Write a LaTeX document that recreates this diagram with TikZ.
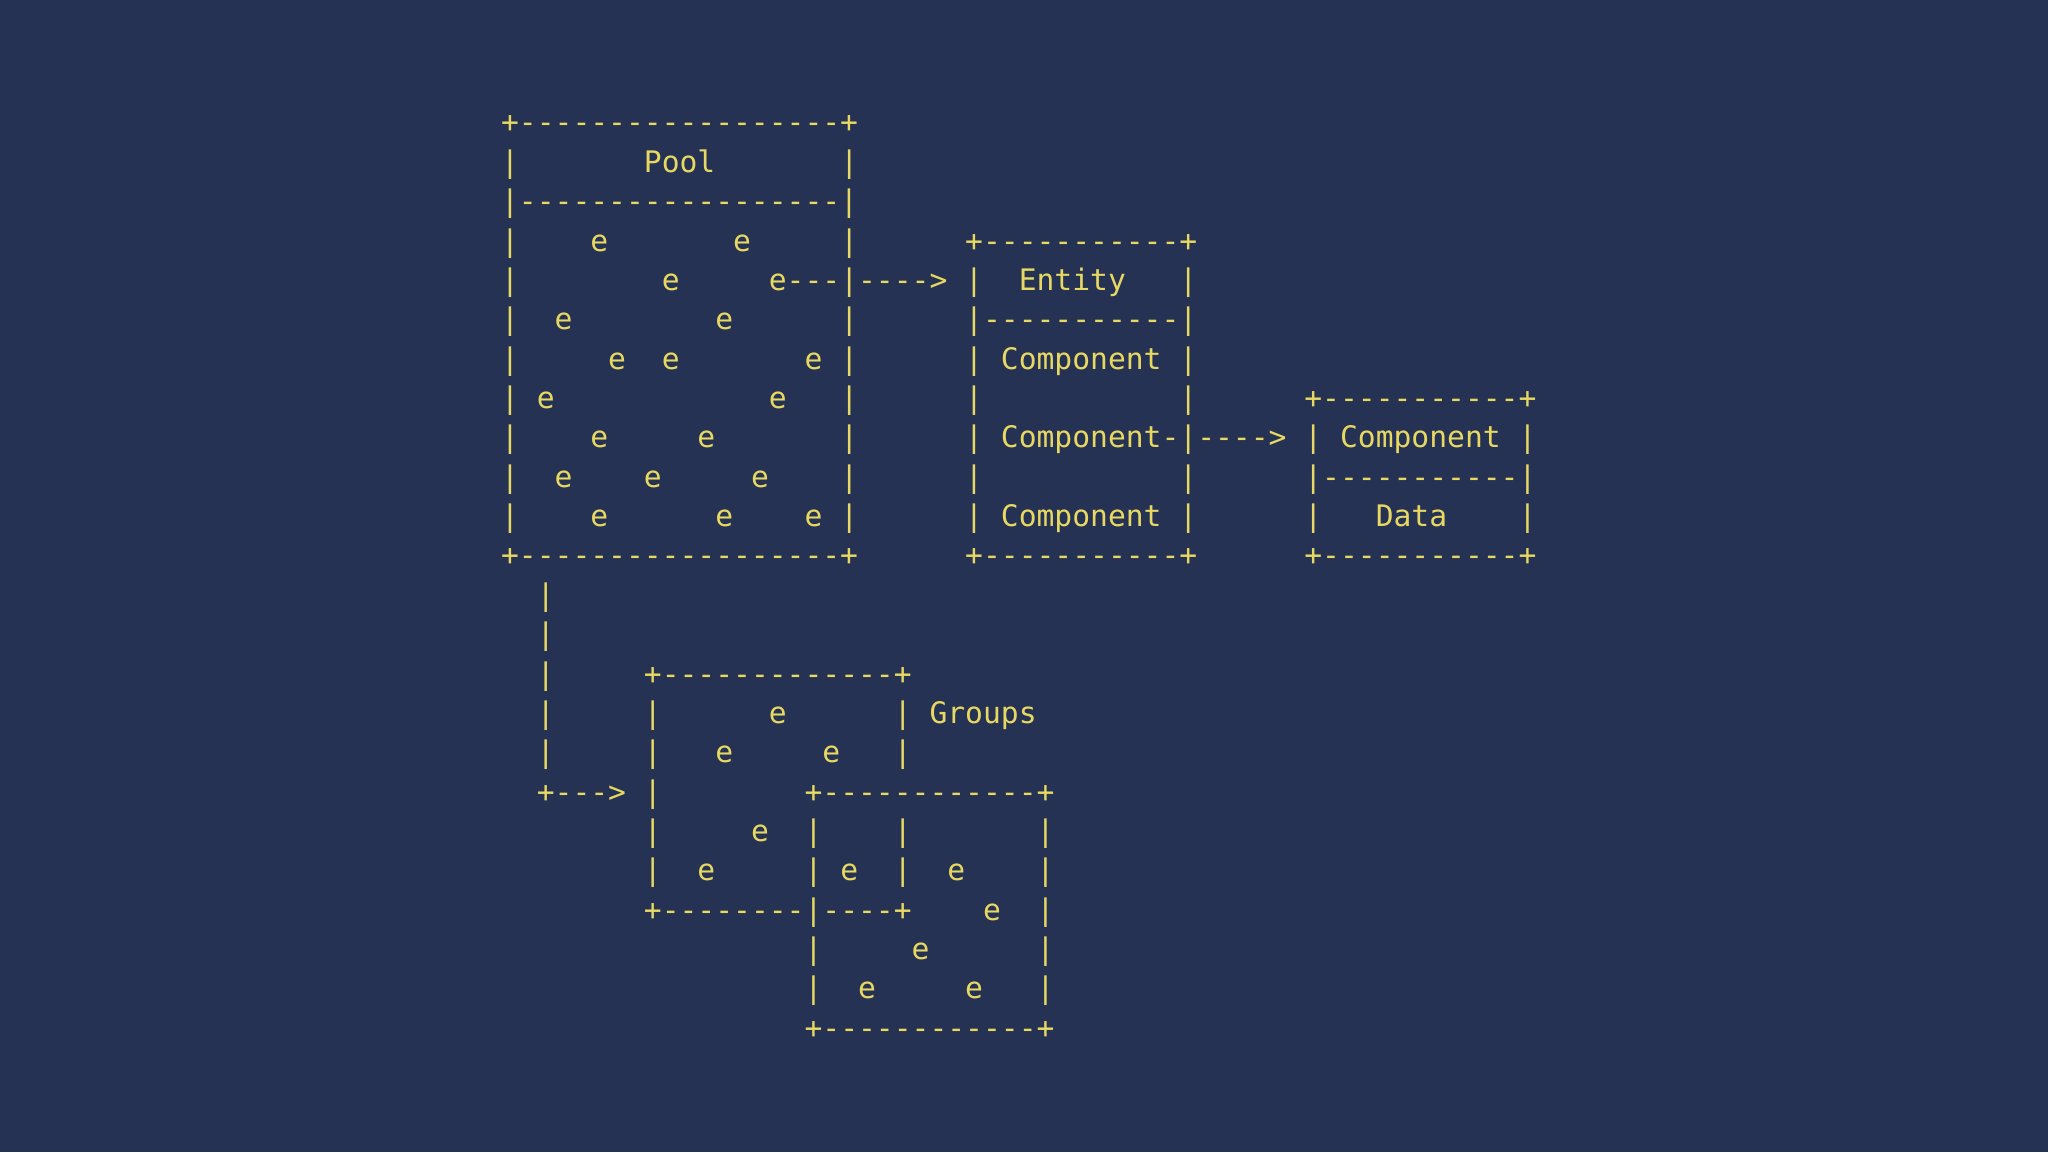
\documentclass[tikz,border=0pt]{standalone}
\usepackage{fontspec}
\setmonofont{DejaVu Sans Mono}
\definecolor{bg}{RGB}{37,50,83}
\definecolor{fg}{RGB}{230,216,98}
\begin{document}
\begin{tikzpicture}[x=1pt,y=1pt,
  asc/.style={anchor=base west, inner sep=0pt, outer sep=0pt, text=fg,
    font=\ttfamily\fontsize{29.65}{36}\selectfont}]
\fill[bg] (0,0) rectangle (2048,1152);
\useasboundingbox (0,0) rectangle (2048,1152);
\node[asc] (l0)  at (501.1,1019.00) {+------------------+};
\node[asc] (l1)  at (501.1,979.64)  {|~~~~~~~Pool~~~~~~~|};
\node[asc] (l2)  at (501.1,940.28)  {|------------------|};
\node[asc] (l3)  at (501.1,900.92)  {|~~~~e~~~~~~~e~~~~~|~~~~~~+-----------+};
\node[asc] (l4)  at (501.1,861.56)  {|~~~~~~~~e~~~~~e---|---->~|~~Entity~~~|};
\node[asc] (l5)  at (501.1,822.20)  {|~~e~~~~~~~~e~~~~~~|~~~~~~|-----------|};
\node[asc] (l6)  at (501.1,782.84)  {|~~~~~e~~e~~~~~~~e~|~~~~~~|~Component~|};
\node[asc] (l7)  at (501.1,743.48)  {|~e~~~~~~~~~~~~e~~~|~~~~~~|~~~~~~~~~~~|~~~~~~+-----------+};
\node[asc] (l8)  at (501.1,704.12)  {|~~~~e~~~~~e~~~~~~~|~~~~~~|~Component-|---->~|~Component~|};
\node[asc] (l9)  at (501.1,664.76)  {|~~e~~~~e~~~~~e~~~~|~~~~~~|~~~~~~~~~~~|~~~~~~|-----------|};
\node[asc] (l10) at (501.1,625.40)  {|~~~~e~~~~~~e~~~~e~|~~~~~~|~Component~|~~~~~~|~~~Data~~~~|};
\node[asc] (l11) at (501.1,586.04)  {+------------------+~~~~~~+-----------+~~~~~~+-----------+};
\node[asc] (l12) at (501.1,546.68)  {~~|};
\node[asc] (l13) at (501.1,507.32)  {~~|};
\node[asc] (l14) at (501.1,467.96)  {~~|~~~~~+-------------+};
\node[asc] (l15) at (501.1,428.60)  {~~|~~~~~|~~~~~~e~~~~~~|~Groups};
\node[asc] (l16) at (501.1,389.24)  {~~|~~~~~|~~~e~~~~~e~~~|};
\node[asc] (l17) at (501.1,349.88)  {~~+--->~|~~~~~~~~+------------+};
\node[asc] (l18) at (501.1,310.52)  {~~~~~~~~|~~~~~e~~|~~~~|~~~~~~~|};
\node[asc] (l19) at (501.1,271.16)  {~~~~~~~~|~~e~~~~~|~e~~|~~e~~~~|};
\node[asc] (l20) at (501.1,231.80)  {~~~~~~~~+--------|----+~~~~e~~|};
\node[asc] (l21) at (501.1,192.44)  {~~~~~~~~~~~~~~~~~|~~~~~e~~~~~~|};
\node[asc] (l22) at (501.1,153.08)  {~~~~~~~~~~~~~~~~~|~~e~~~~~e~~~|};
\node[asc] (l23) at (501.1,113.72)  {~~~~~~~~~~~~~~~~~+------------+};
\end{tikzpicture}
\end{document}
